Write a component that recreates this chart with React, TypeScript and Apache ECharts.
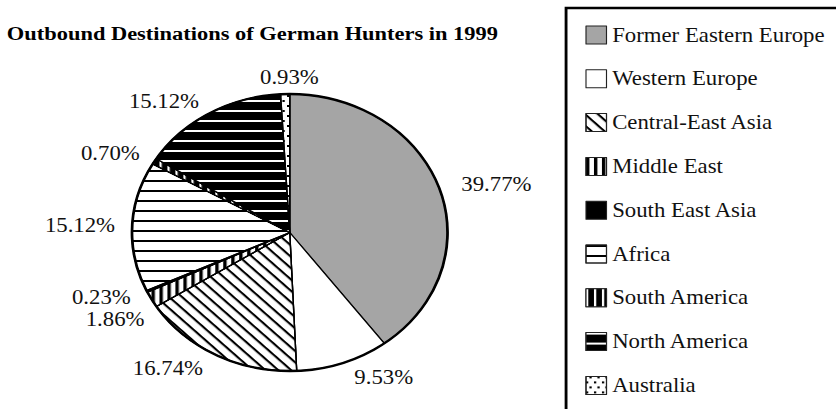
import React, { useEffect, useRef } from "react";
import * as echarts from "echarts";

// ---- data ----
const titleText = "Outbound Destinations of German Hunters in 1999";
const categories = [
  "Former Eastern Europe",
  "Western Europe",
  "Central-East Asia",
  "Middle East",
  "South East Asia",
  "Africa",
  "South America",
  "North America",
  "Australia",
];
const shares = [39.77, 9.53, 16.74, 1.86, 0.23, 15.12, 0.7, 15.12, 0.93];

// ---- styles ----
const W = 734;
const STRETCH = 836 / W;
const H = 409;
const CHART_H = 440;
const FONT = "'Liberation Serif', 'Times New Roman', serif";

const lines = (color: string, dx: number[], dy: number[], rotation = 0) => ({
  symbol: "rect",
  symbolSize: 1,
  symbolKeepAspect: false,
  dashArrayX: dx,
  dashArrayY: dy,
  rotation,
  color,
});

const fillColors = ["#a5a5a5", "#ffffff", "#ffffff", "#ffffff", "#000000", "#ffffff", "#000000", "#000000", "#ffffff"];
const decals: any[] = [
  null,
  null,
  lines("#000", [1, 0], [1.4, 5.6], Math.PI / 4),
  lines("#000", [2.6, 3.8], [1, 0]),
  null,
  lines("#000", [1, 0], [1.8, 7.3]),
  lines("#fff", [1.4, 4.2], [1, 0]),
  lines("#fff", [1, 0], [1.4, 7.7]),
  {
    symbol: "rect",
    symbolSize: 1,
    symbolKeepAspect: false,
    dashArrayX: [
      [1.4, 4.6],
      [0, 3, 1.4, 1.6],
    ],
    dashArrayY: [1.4, 2.6],
    color: "#000",
  },
];
// small nudges for crowded labels (dataIndex -> offset)
const labelNudge: Record<number, { dx: number; dy: number }> = { 8: { dx: 35, dy: -2 } };

export default function App() {
  const ref = useRef<HTMLDivElement>(null);
  useEffect(() => {
    if (!ref.current) return;
    document.body.style.overflow = "hidden";
    const chart = echarts.init(ref.current, null, { renderer: "svg" });
    const data = categories.map((name, i) => ({
      name,
      value: shares[i],
      itemStyle: {
        color: fillColors[i],
        decal: decals[i] || undefined,
      },
    }));
    chart.setOption({
      animation: false,
      backgroundColor: "#fff",
      title: {
        text: titleText,
        left: 6,
        top: 23,
        padding: 0,
        textStyle: {
          fontFamily: FONT,
          fontSize: 19.7,
          fontWeight: "bold",
          color: "#000",
          lineHeight: 20,
        },
      },
      legend: {
        orient: "vertical",
        left: 497,
        top: 8,
        padding: [17, 60, 40, 17],
        borderColor: "#000",
        borderWidth: 2.5,
        itemWidth: 18,
        itemHeight: 18,
        itemGap: 23.8,
        icon: "rect",
        data: categories,
        selectedMode: false,
        itemStyle: { borderColor: "#222", borderWidth: 1 },
        textStyle: {
          fontFamily: FONT,
          fontSize: 20,
          lineHeight: 20,
          color: "#111",
        },
      },
      series: [
        {
          type: "pie",
          center: [254.4, 232.5],
          radius: 138.5,
          startAngle: 90,
          clockwise: true,
          silent: true,
          data,
          itemStyle: { borderColor: "#000", borderWidth: 1.2 },
          label: {
            show: true,
            position: "outside",
            fontFamily: FONT,
            fontSize: 20,
            color: "#111",
            formatter: (p: any) => Number(p.value).toFixed(2) + "%",
          },
          labelLine: { show: false, length: 15, length2: 0 },
          labelLayout: (p: any) => labelNudge[p.dataIndex] || {},
        },
        {
          type: "pie",
          center: [254.4, 232.5],
          radius: 138.5,
          silent: true,
          data: [{ name: "outline", value: 1 }],
          itemStyle: { color: "rgba(0,0,0,0)", borderColor: "#000", borderWidth: 2.4 },
          label: { show: false },
          labelLine: { show: false },
        },
      ],
    });
    return () => chart.dispose();
  }, []);
  return (
    <div
      style={{
        position: "absolute",
        left: 0,
        top: 0,
        width: W,
        height: H,
        overflow: "hidden",
        transform: `scaleX(${STRETCH})`,
        transformOrigin: "0 0",
        background: "#fff",
      }}
    >
      <div ref={ref} style={{ width: W, height: CHART_H }} />
    </div>
  );
}
